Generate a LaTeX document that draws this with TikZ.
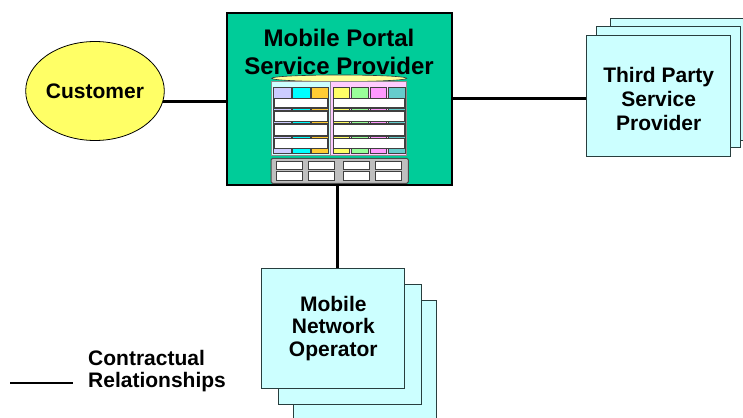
\documentclass[tikz,border=0pt]{standalone}
\usepackage{fontspec}
\setmainfont{Liberation Sans}
\usetikzlibrary{shapes.geometric}

\definecolor{portalgreen}{RGB}{0,204,153}
\definecolor{custyellow}{RGB}{255,255,102}
\definecolor{palecyan}{RGB}{204,255,255}
\definecolor{stackedge}{RGB}{40,62,62}
\definecolor{lidyellow}{RGB}{255,255,153}
\definecolor{panelpink}{RGB}{255,204,255}
\definecolor{colLav}{RGB}{204,204,255}
\definecolor{colCyan}{RGB}{0,255,255}
\definecolor{colOrange}{RGB}{255,204,51}
\definecolor{colYellow}{RGB}{255,255,102}
\definecolor{colGreen}{RGB}{153,255,153}
\definecolor{colPink}{RGB}{255,153,255}
\definecolor{colTeal}{RGB}{102,204,204}

\tikzset{
  lab/.style={font=\bfseries\fontsize{21}{24}\selectfont, align=center},
  stackbox/.style={draw=stackedge, fill=palecyan, line width=1pt,
    minimum width=144pt, minimum height=121pt, inner sep=0pt},
  conn/.style={line width=3pt},
  dbline/.style={draw=black!75, line width=0.9pt},
  cell/.style={fill=white, draw=black!75, line width=1pt},
}

\begin{document}
\begin{tikzpicture}[x=1pt, y=-1pt]
\path[use as bounding box] (0,0) rectangle (743,417);
\clip (0,0) rectangle (743,417);

% Customer
\node[ellipse, draw=black, line width=0.8pt, fill=custyellow,
      minimum width=122pt, minimum height=99pt, inner sep=0pt, lab] (cust) at (95,91) {Customer};

% Mobile portal service provider
\node[draw=black, line width=1.3pt, fill=portalgreen, minimum width=225pt,
      minimum height=172pt, inner sep=0pt] (mp) at (339.5,99) {};
\node[font=\bfseries\fontsize{24}{28}\selectfont, align=center, anchor=north,
      inner sep=0pt] (mptitle) at (339,28.5) {Mobile Portal\\Service Provider};

% database / server graphic
\draw[fill=lidyellow, draw=black!80, line width=0.6pt] (339.2,78.3) ellipse [x radius=67.5, y radius=3.3];
\draw[fill=palecyan, draw=black!45, line width=0.5pt] (271,81.5) rectangle (330.5,155.5);
\draw[fill=panelpink, draw=black!45, line width=0.5pt] (330.5,81.5) rectangle (406.7,155.5);
\foreach \xa/\xb/\c in {273.3/291/colLav, 292.5/310.2/colCyan, 311.5/328.5/colOrange,
                        333.3/349.5/colYellow, 351.2/368.8/colGreen, 370.2/386.7/colPink, 388/405/colTeal}
  \draw[fill=\c, dbline] (\xa,87.5) rectangle (\xb,153.5);
\foreach \yy in {110, 123.2, 136.8}{
  \draw[dbline] (273.3,\yy) -- (328.5,\yy);
  \draw[dbline] (333.3,\yy) -- (405,\yy);
}
\foreach \ya/\yb in {98.3/108, 111.7/121.7, 124.7/135, 138.3/148.3}{
  \draw[cell] (274.3,\ya) rectangle (327.7,\yb);
  \draw[cell] (333.3,\ya) rectangle (404.5,\yb);
}
\draw[fill=black!25, draw=black!70, line width=1pt, rounded corners=1.5pt] (271,158.3) rectangle (408.3,183.3);
\foreach \xa/\xb in {276.7/302.7, 308.3/334.3, 343.3/369.3, 375/401}{
  \draw[cell] (\xa,161.2) rectangle (\xb,169.5);
  \draw[cell] (\xa,171.7) rectangle (\xb,180);
}

% Third party service provider (stack of three sheets)
\node[stackbox] (tpback2) at (682.7,79.5) {};
\node[stackbox] (tpback1) at (668.7,87.2) {};
\node[stackbox, lab] (tp) at (658.7,96.2) {\rule{0pt}{20.5pt}Third Party\\Service\\Provider};

% Mobile network operator (stack of three sheets)
\node[stackbox, minimum width=143pt, minimum height=120pt] (mnoback2) at (365,360.7) {};
\node[stackbox, minimum width=143pt, minimum height=120pt] (mnoback1) at (350,344.2) {};
\node[stackbox, minimum width=143pt, minimum height=120pt,
      font=\bfseries\fontsize{21}{22.5}\selectfont, align=center] (mno) at (333.3,328.3) {Mobile\\Network\\Operator};

% contractual relationships
\draw[conn] (cust.-9) -- (cust.-9 -| mp.west);
\draw[conn] (mp.east |- 0,99) -- (tp.west |- 0,99);
\draw[conn] (mp.south -| 337,0) -- (mno.north -| 337,0);

% legend
\coordinate (legA) at (10,383.3);
\coordinate (legB) at (73,383.3);
\draw[line width=2pt] (legA) -- (legB);
\node[font=\bfseries\fontsize{21}{22.5}\selectfont, align=left, anchor=north west,
      inner sep=0pt] (legtext) at (88,350) {Contractual\\Relationships};
\end{tikzpicture}
\end{document}
